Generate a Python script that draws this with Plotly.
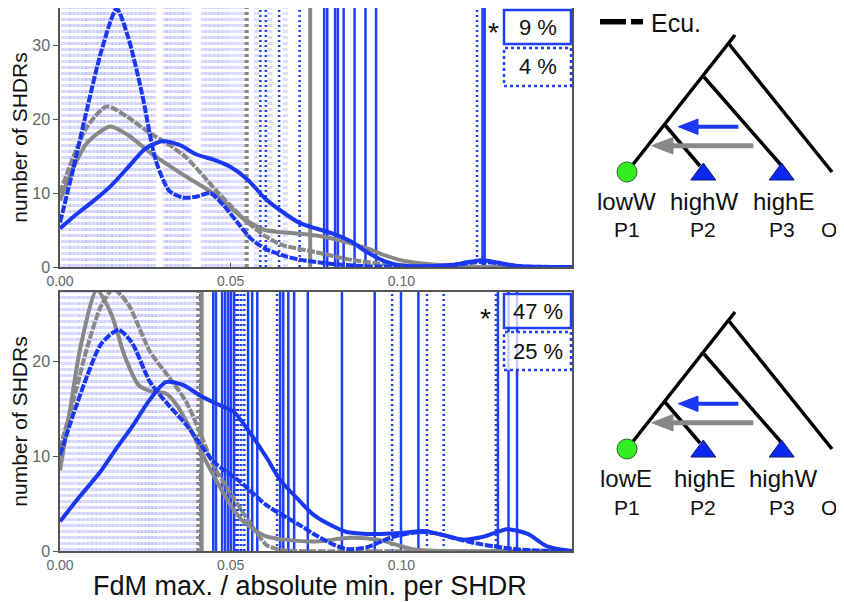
import plotly.graph_objects as go

# ---------------- data ----------------
# background faint per-window values (light blue)
bg_top = [0.0010, 0.0025, 0.0035, 0.0048, 0.0060, 0.0072, 0.0080, 0.0092, 0.0105, 0.0115,
          0.0125, 0.0135, 0.0148, 0.0158, 0.0170, 0.0180, 0.0192, 0.0203, 0.0215, 0.0228,
          0.0240, 0.0252, 0.0262, 0.0275, 0.0308, 0.0318, 0.0330, 0.0342, 0.0355, 0.0365,
          0.0378, 0.0420, 0.0432, 0.0445, 0.0458, 0.0470, 0.0482, 0.0495, 0.0510, 0.0525,
          0.0540, 0.0575, 0.0615, 0.0660]
bg_bot = [0.0008, 0.0022, 0.0035, 0.0050, 0.0062, 0.0075, 0.0088, 0.0100, 0.0112, 0.0125,
          0.0138, 0.0150, 0.0162, 0.0175, 0.0188, 0.0200, 0.0212, 0.0225, 0.0235, 0.0245,
          0.0255, 0.0265, 0.0275, 0.0285, 0.0298, 0.0310, 0.0322, 0.0335, 0.0348, 0.0360,
          0.0372, 0.0385, 0.0398]

# top panel threshold / outlier lines
top_gray_dot = [0.0547]
top_gray_solid = [0.0733]
top_blue_dot = [0.0587, 0.0603, 0.0642, 0.0702, 0.1222]
top_blue_solid = [0.0774, 0.0783, 0.0806, 0.0814, 0.0831, 0.0863, 0.0895, 0.0926, 0.1238, 0.1244]

# bottom panel
bot_gray_dot = [0.0405]
bot_gray_solid = [0.0415]
bot_blue_dot = [0.0411, 0.0516, 0.0522, 0.0531, 0.0540, 0.0636, 0.0973, 0.1075, 0.1124, 0.1277]
bot_blue_solid = [0.0449, 0.0457, 0.0475, 0.0484, 0.0493, 0.0501, 0.0510, 0.0551, 0.0563,
                  0.0578, 0.0645, 0.0654, 0.0669, 0.0686, 0.0726, 0.0826, 0.0922, 0.0999,
                  0.1050, 0.1283, 0.1314, 0.1339]

# density curves - top panel
top_bs_x = [0, 0.005, 0.010, 0.015, 0.020, 0.025, 0.030, 0.035, 0.040, 0.045, 0.050, 0.055,
            0.060, 0.065, 0.070, 0.075, 0.080, 0.085, 0.090, 0.095, 0.100, 0.105, 0.110,
            0.115, 0.120, 0.124, 0.128, 0.135, 0.150]
top_bs_y = [5.2, 7.2, 9.0, 11.0, 13.5, 16.0, 17.0, 16.5, 15.2, 14.5, 13.5, 11.8, 9.3, 7.5,
            6.0, 5.2, 4.5, 3.5, 2.0, 0.8, 0.2, 0.1, 0.15, 0.3, 0.7, 0.9, 0.6, 0.1, 0.0]
top_bd_x = [0, 0.004, 0.008, 0.012, 0.0166, 0.020, 0.024, 0.028, 0.032, 0.036, 0.040, 0.044,
            0.048, 0.052, 0.056, 0.060, 0.065, 0.070, 0.080, 0.090, 0.100, 0.115, 0.121,
            0.124, 0.128, 0.135, 0.150]
top_bd_y = [6.0, 13.5, 21.5, 29.0, 34.9, 31.0, 23.5, 14.5, 10.3, 9.4, 9.5, 10.0, 8.3, 6.0,
            3.8, 2.5, 1.6, 1.0, 0.4, 0.1, 0.05, 0.2, 0.6, 0.7, 0.5, 0.1, 0.0]
top_gs_x = [0, 0.004, 0.008, 0.0147, 0.020, 0.026, 0.032, 0.037, 0.042, 0.046, 0.050, 0.054,
            0.060, 0.065, 0.070, 0.076, 0.082, 0.090, 0.095, 0.100, 0.110, 0.120, 0.150]
top_gs_y = [9.0, 13.5, 16.8, 19.0, 17.8, 15.6, 13.7, 12.2, 10.8, 9.6, 8.0, 6.5, 5.0, 4.7,
            4.5, 4.2, 3.6, 2.5, 1.6, 0.9, 0.3, 0.05, 0.0]
top_gd_x = [0, 0.004, 0.008, 0.0137, 0.020, 0.026, 0.032, 0.037, 0.042, 0.046, 0.050, 0.054,
            0.060, 0.065, 0.075, 0.085, 0.095, 0.105, 0.120, 0.150]
top_gd_y = [10.0, 15.0, 19.0, 21.7, 20.2, 18.2, 16.5, 14.8, 12.3, 10.2, 8.3, 6.4, 4.2, 3.0,
            2.0, 1.0, 0.4, 0.1, 0.0, 0.0]

# density curves - bottom panel
bot_bs_x = [0, 0.005, 0.0117, 0.0165, 0.0215, 0.026, 0.031, 0.036, 0.041, 0.046, 0.0508,
            0.055, 0.0606, 0.0645, 0.0704, 0.0743, 0.080, 0.084, 0.090, 0.094, 0.100, 0.1066,
            0.112, 0.118, 0.124, 0.131, 0.137, 0.1427, 0.150]
bot_bs_y = [3.1, 5.4, 8.3, 10.8, 13.3, 15.8, 17.8, 17.5, 16.4, 15.5, 14.7, 12.8, 9.8, 7.5,
            5.2, 3.8, 2.6, 2.0, 1.8, 1.8, 1.9, 2.1, 1.7, 1.2, 1.5, 2.3, 1.8, 0.5, 0.0]
bot_bd_x = [0, 0.004, 0.008, 0.012, 0.0171, 0.021, 0.0264, 0.032, 0.037, 0.041, 0.045, 0.049,
            0.0528, 0.0606, 0.0704, 0.0743, 0.080, 0.084, 0.090, 0.0968, 0.1030, 0.1066, 0.111,
            0.116, 0.122, 0.127, 0.133, 0.140, 0.150]
bot_bd_y = [10.1, 14.5, 18.5, 21.8, 23.3, 22.0, 17.8, 15.3, 13.3, 11.3, 9.4, 8.3, 7.3, 4.8,
            2.7, 1.8, 0.7, 0.2, 0.4, 1.4, 1.9, 2.0, 1.8, 1.3, 0.8, 0.5, 0.2, 0.05, 0.0]
bot_gs_x = [0, 0.003, 0.006, 0.0108, 0.015, 0.019, 0.023, 0.027, 0.031, 0.034, 0.038, 0.042,
            0.046, 0.050, 0.054, 0.060, 0.066, 0.075, 0.085, 0.093, 0.100, 0.105, 0.150]
bot_gs_y = [8.5, 15.0, 21.5, 27.5, 25.0, 20.5, 17.5, 16.8, 16.6, 15.5, 13.0, 10.0, 7.3, 4.8,
            3.0, 1.6, 1.2, 1.0, 1.4, 1.2, 0.5, 0.1, 0.0]
bot_gd_x = [0, 0.004, 0.008, 0.012, 0.0156, 0.020, 0.0264, 0.032, 0.037, 0.041, 0.045,
            0.0508, 0.055, 0.0606, 0.065, 0.070, 0.150]
bot_gd_y = [10.8, 16.0, 21.5, 25.8, 27.6, 26.0, 21.0, 18.3, 15.7, 12.5, 9.0, 5.6, 3.3, 0.6,
            0.1, 0.0, 0.0]

pct_top = ["9 %", "4 %"]
pct_bot = ["47 %", "25 %"]
tree_top_labels = ["lowW", "highW", "highE"]
tree_bot_labels = ["lowE", "highE", "highW"]
pop_labels = ["P1", "P2", "P3", "O"]
x_title = "FdM max. / absolute min. per SHDR"
y_title = "number of SHDRs"

YMAX_TOP = 35
YMAX_BOT = 27.3

BLUE = "#2040f8"
BLUE_C = "#1a38f0"
GRAY = "#888888"
FONT = "Liberation Sans, Arial, sans-serif"

# ---------------- figure ----------------
fig = go.Figure()


def vl(xs, ymax):
    X, Y = [], []
    for v in xs:
        X += [v, v, None]
        Y += [0, ymax, None]
    return X, Y


def add_panel(xa, ya, ymax, bg, gdot, gsolid, bdot, bsolid, curves):
    X, Y = vl(bg, ymax)
    fig.add_trace(go.Scatter(x=X, y=Y, mode="lines", xaxis=xa, yaxis=ya, hoverinfo="skip",
                             line=dict(color="rgba(80,80,255,0.2)", width=5, dash="3px,3px")))
    X, Y = vl(bsolid, ymax)
    fig.add_trace(go.Scatter(x=X, y=Y, mode="lines", xaxis=xa, yaxis=ya, hoverinfo="skip",
                             line=dict(color=BLUE, width=2.5)))
    X, Y = vl(bdot, ymax)
    fig.add_trace(go.Scatter(x=X, y=Y, mode="lines", xaxis=xa, yaxis=ya, hoverinfo="skip",
                             line=dict(color=BLUE, width=2.5, dash="2px,3px")))
    X, Y = vl(gsolid, ymax)
    fig.add_trace(go.Scatter(x=X, y=Y, mode="lines", xaxis=xa, yaxis=ya, hoverinfo="skip",
                             line=dict(color=GRAY, width=4)))
    X, Y = vl(gdot, ymax)
    fig.add_trace(go.Scatter(x=X, y=Y, mode="lines", xaxis=xa, yaxis=ya, hoverinfo="skip",
                             line=dict(color=GRAY, width=4, dash="3px,3px")))
    for cx, cy, col, dash in curves:
        fig.add_trace(go.Scatter(x=cx, y=cy, mode="lines", xaxis=xa, yaxis=ya,
                                 line=dict(color=col, width=4, dash=dash, shape="spline",
                                           smoothing=0.7)))


DASHC = "8px,1.5px"
add_panel("x", "y", YMAX_TOP, bg_top, top_gray_dot, top_gray_solid, top_blue_dot, top_blue_solid,
          [(top_gs_x, top_gs_y, GRAY, "solid"), (top_gd_x, top_gd_y, GRAY, DASHC),
           (top_bs_x, top_bs_y, BLUE_C, "solid"), (top_bd_x, top_bd_y, BLUE_C, DASHC)])
add_panel("x2", "y2", YMAX_BOT, bg_bot, bot_gray_dot, bot_gray_solid, bot_blue_dot, bot_blue_solid,
          [(bot_gs_x, bot_gs_y, GRAY, "solid"), (bot_gd_x, bot_gd_y, GRAY, DASHC),
           (bot_bs_x, bot_bs_y, BLUE_C, "solid"), (bot_bd_x, bot_bd_y, BLUE_C, DASHC)])

# page is shown with an 8px body margin, so reference pixel r maps to figure pixel r - OFF
OFF = 8
W, H = 844, 602
L, T = 52, 0
R = W - 564
B = H - 543
PW = W - L - R
PH = H - T - B


def px(x):
    return (x - OFF - L) / PW


def py(y):
    return (H - B - (y - OFF)) / PH


axis_common = dict(range=[0, 0.15], tickvals=[0, 0.05, 0.10], ticktext=["0.00", "0.05", "0.10"],
                   showgrid=False, zeroline=False, showline=True, linecolor="#555", linewidth=1.5,
                   mirror=True, ticks="inside", ticklen=4, tickcolor="#555", automargin=False,
                   tickfont=dict(size=14, color="#666", family=FONT))
yaxis_common = dict(showgrid=False, zeroline=False, showline=True, linecolor="#555", linewidth=1.5,
                    mirror=True, ticks="outside", ticklen=5, tickcolor="#555", automargin=False,
                    tickfont=dict(size=16, color="#666", family=FONT),
                    title=dict(text=y_title, font=dict(size=21, color="#111", family=FONT),
                               standoff=3))

fig.update_layout(
    width=W, height=H, margin=dict(l=L, r=R, t=T, b=B, autoexpand=False),
    paper_bgcolor="white", plot_bgcolor="white", showlegend=False,
    font=dict(family=FONT),
    xaxis=dict(domain=[0, 1], anchor="y", **axis_common),
    yaxis=dict(domain=[py(267), 1], anchor="x", range=[0, YMAX_TOP], tickvals=[0, 10, 20, 30],
               **yaxis_common),
    xaxis2=dict(domain=[0, 1], anchor="y2", **axis_common),
    yaxis2=dict(domain=[0, py(292)], anchor="x2", range=[0, YMAX_BOT], tickvals=[0, 10, 20],
                **yaxis_common),
)

shapes = []
anns = []


def text(x, y, s, size, xanchor="center", color="#111"):
    anns.append(dict(xref="paper", yref="paper", x=px(x), y=py(y), text=s, showarrow=False,
                     xanchor=xanchor, yanchor="middle",
                     font=dict(size=size, color=color, family=FONT)))


# x-axis title
text(310, 586, x_title, 27)


# percentage boxes
def pct_boxes(y0, labels, star_x, star_y, fill):
    b1 = (y0, y0 + 34)
    b2 = (y0 + 38, y0 + 76)
    shapes.append(dict(type="rect", xref="paper", yref="paper", x0=px(504), x1=px(571),
                       y0=py(b1[1]), y1=py(b1[0]), line=dict(color=BLUE, width=2.5), fillcolor=fill))
    shapes.append(dict(type="rect", xref="paper", yref="paper", x0=px(504), x1=px(571),
                       y0=py(b2[1]), y1=py(b2[0]), line=dict(color=BLUE, width=2.5, dash="dot"),
                       fillcolor=fill))
    text(538, (b1[0] + b1[1]) / 2, labels[0], 22)
    text(538, (b2[0] + b2[1]) / 2, labels[1], 22)
    text(star_x, star_y, "*", 28)


pct_boxes(10, pct_top, 493, 32, "rgba(255,255,255,0.9)")
pct_boxes(294, pct_bot, 485, 318, "rgba(255,255,255,0.75)")


def line(x0, y0, x1, y1, color="black", width=3.5):
    shapes.append(dict(type="line", xref="paper", yref="paper", x0=px(x0), y0=py(y0),
                       x1=px(x1), y1=py(y1), line=dict(color=color, width=width)))


def poly(pts, color, outline=None):
    d = "M " + " L ".join(f"{px(a)},{py(b)}" for a, b in pts) + " Z"
    shapes.append(dict(type="path", xref="paper", yref="paper", path=d, fillcolor=color,
                       line=dict(color=outline or color, width=1)))


def tree(dy, labels):
    # branches
    line(627, 172 + dy, 735, 35 + dy)
    line(729, 44 + dy, 832, 172 + dy)
    line(704, 77 + dy, 781, 165 + dy)
    line(665, 125 + dy, 700, 166 + dy)
    # arrows
    line(697, 126.7 + dy, 738.3, 126.7 + dy, BLUE_C, 4)
    poly([(678.3, 126.7 + dy), (698, 119 + dy), (698, 134.5 + dy)], BLUE_C)
    line(672, 145.7 + dy, 753.3, 145.7 + dy, GRAY, 5)
    poly([(651.7, 145.7 + dy), (673, 137.5 + dy), (673, 154 + dy)], GRAY)
    # tips
    shapes.append(dict(type="circle", xref="paper", yref="paper", x0=px(617), x1=px(637),
                       y0=py(182 + dy), y1=py(162 + dy), fillcolor="#33ee22",
                       line=dict(color="#2a6a2a", width=1)))
    for cx in (703.3, 781.7):
        poly([(cx, 163 + dy), (cx - 12.5, 180 + dy), (cx + 12.5, 180 + dy)], "#0a28ee", "#0a1a80")
    for lab, cx in zip(labels, (626, 704, 783)):
        text(cx, 201 + dy, lab, 24)
    for lab, cx in zip(pop_labels, (626.7, 703.3, 781.7, 829)):
        text(cx, 230 + dy, lab, 21)


tree(0, tree_top_labels)
tree(277, tree_bot_labels)

# Ecu. legend
line(600, 21.7, 626, 21.7, "black", 5.5)
line(631, 21.7, 643, 21.7, "black", 5.5)
text(649, 23, "Ecu.", 25, xanchor="left")

fig.update_layout(shapes=shapes, annotations=anns)
fig.write_html("out.html")
